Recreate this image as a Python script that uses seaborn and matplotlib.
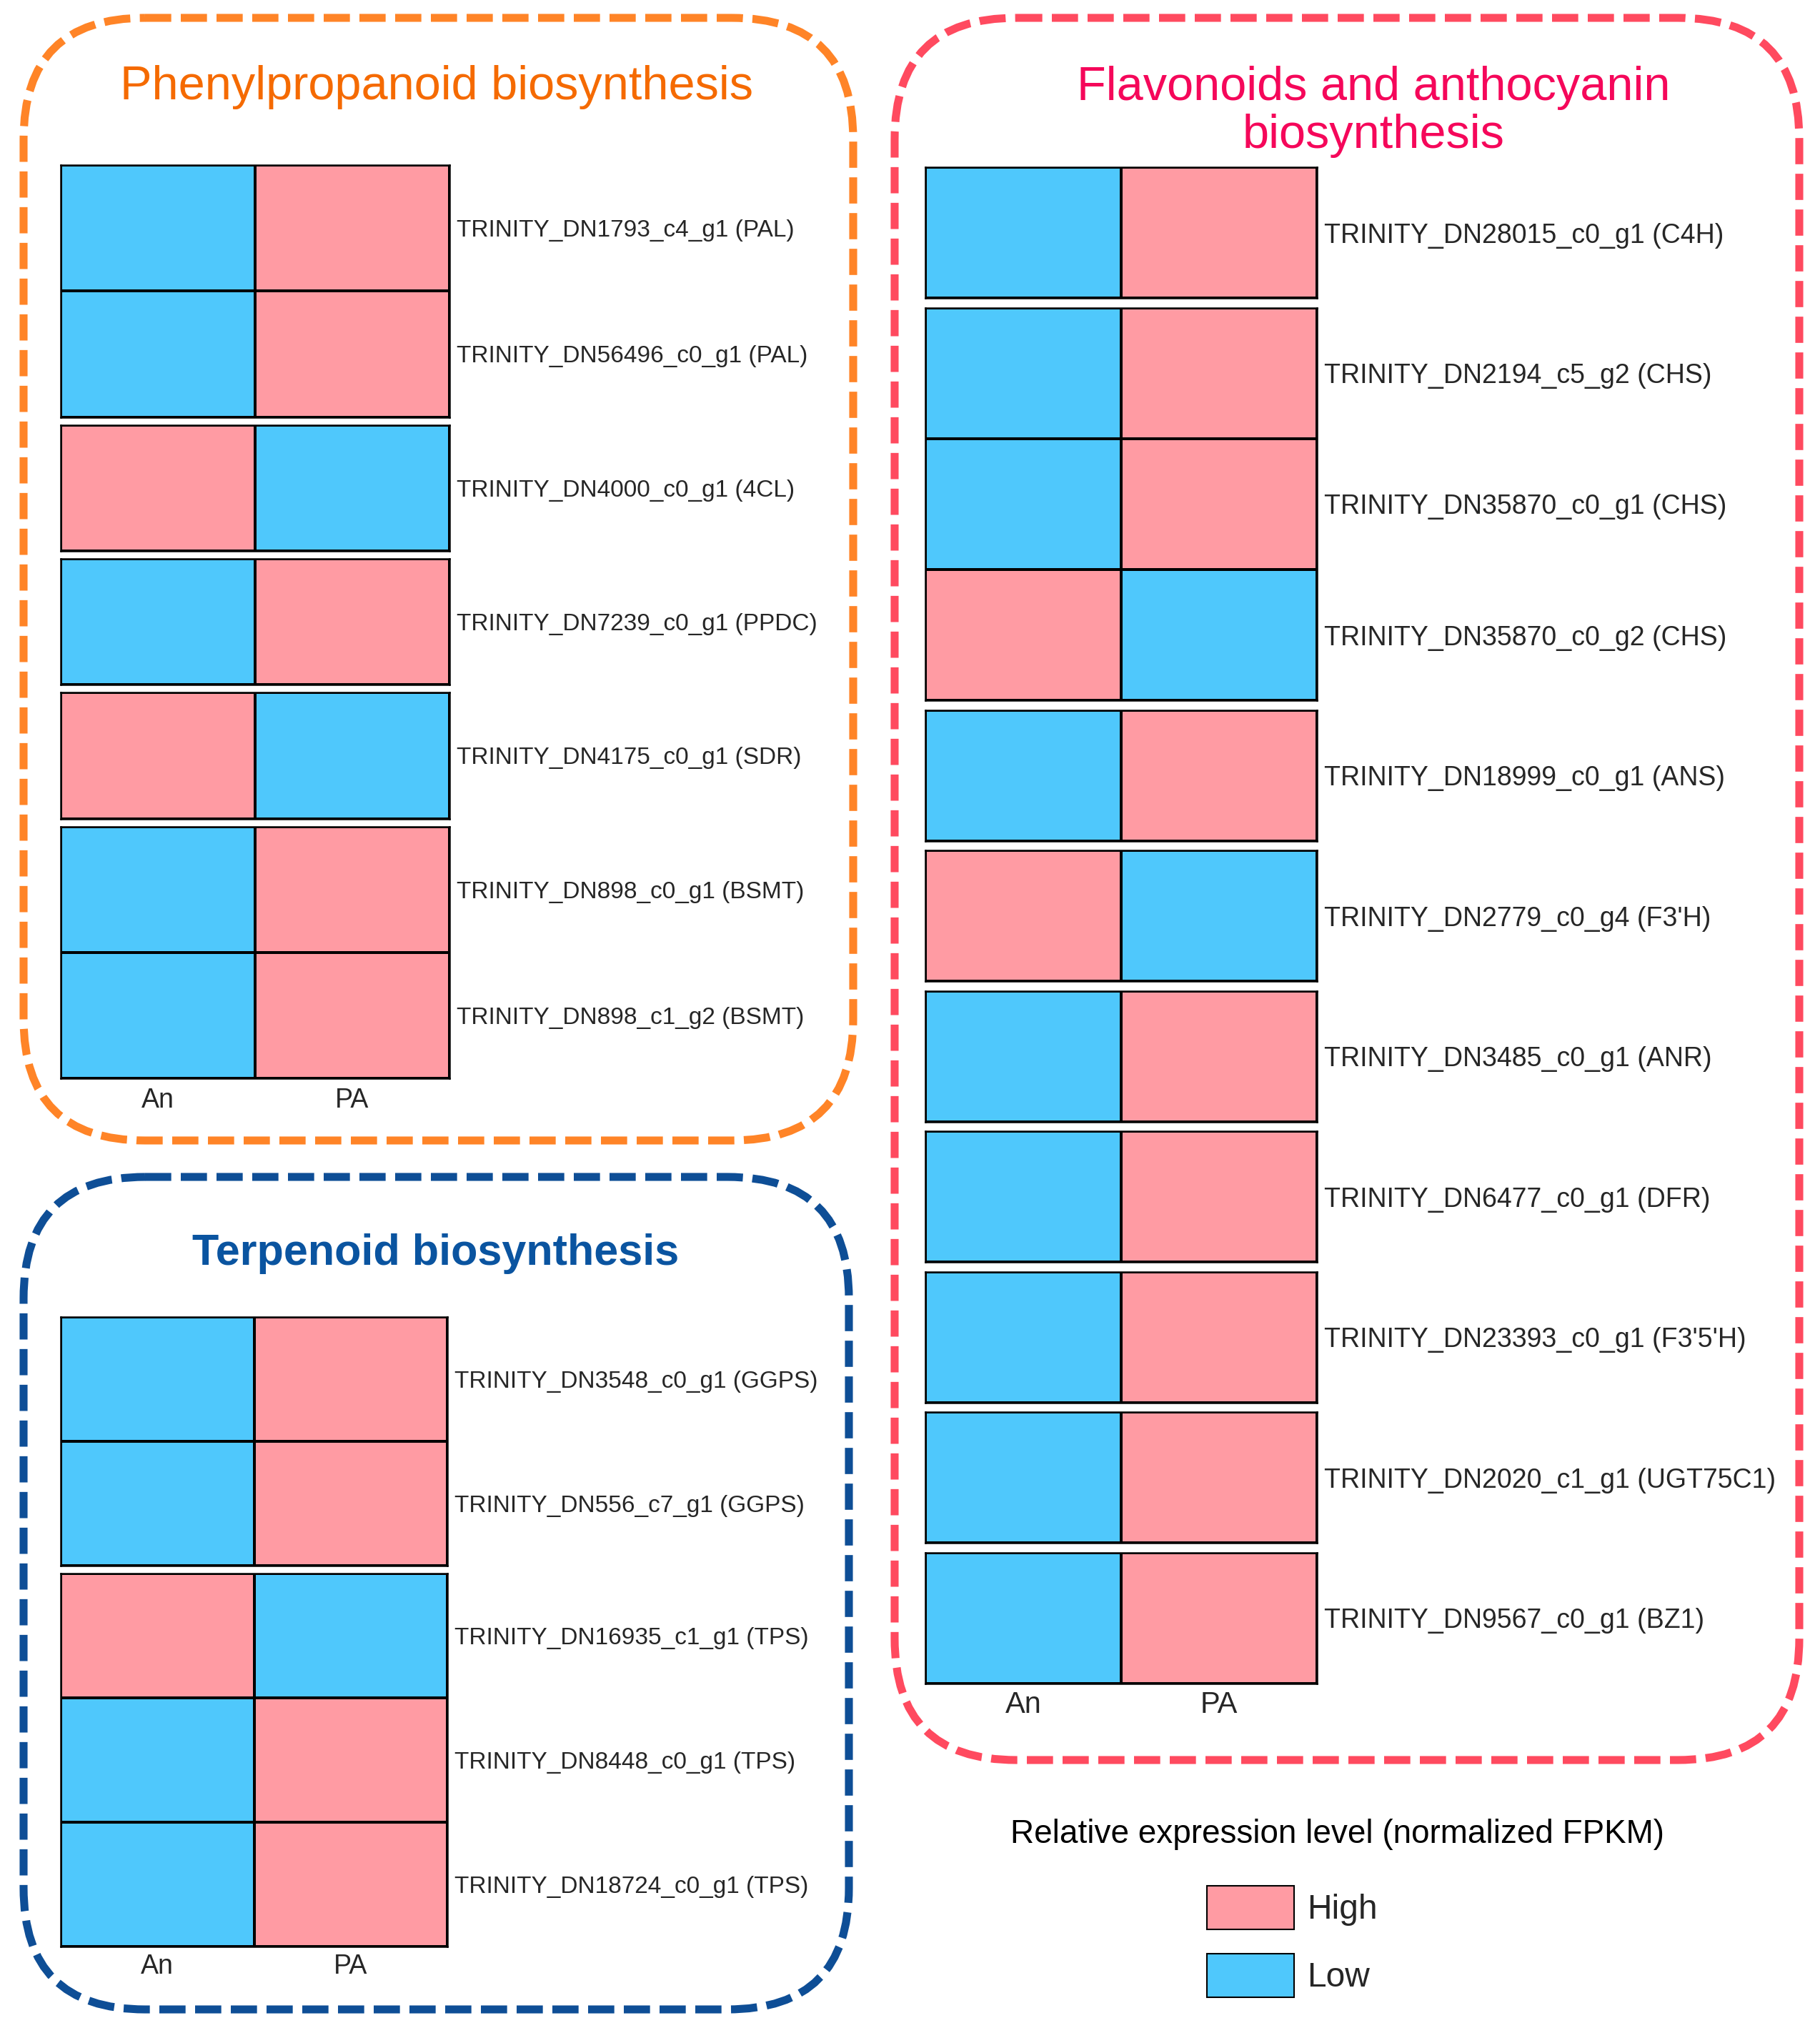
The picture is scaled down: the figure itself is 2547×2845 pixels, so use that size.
import numpy as np
import pandas as pd
import seaborn as sns
import matplotlib.pyplot as plt
from matplotlib.colors import ListedColormap
from matplotlib.patches import FancyBboxPatch, Patch

W, H = 2547, 2845
DPI = 100

LOW = "#4FC8FC"
HIGH = "#FF9BA3"

SAMPLES = ["An", "PA"]

# 1 = high, 0 = low (normalized FPKM)
PHENYL_GENES = ["TRINITY_DN1793_c4_g1 (PAL)", "TRINITY_DN56496_c0_g1 (PAL)",
                "TRINITY_DN4000_c0_g1 (4CL)", "TRINITY_DN7239_c0_g1 (PPDC)",
                "TRINITY_DN4175_c0_g1 (SDR)", "TRINITY_DN898_c0_g1 (BSMT)",
                "TRINITY_DN898_c1_g2 (BSMT)"]
PHENYL_AN = [0, 0, 1, 0, 1, 0, 0]
PHENYL_PA = [1, 1, 0, 1, 0, 1, 1]
PHENYL_GROUPS = [2, 1, 1, 1, 2]

TERP_GENES = ["TRINITY_DN3548_c0_g1 (GGPS)", "TRINITY_DN556_c7_g1 (GGPS)",
              "TRINITY_DN16935_c1_g1 (TPS)", "TRINITY_DN8448_c0_g1 (TPS)",
              "TRINITY_DN18724_c0_g1 (TPS)"]
TERP_AN = [0, 0, 1, 0, 0]
TERP_PA = [1, 1, 0, 1, 1]
TERP_GROUPS = [2, 3]

FLAV_GENES = ["TRINITY_DN28015_c0_g1 (C4H)", "TRINITY_DN2194_c5_g2 (CHS)",
              "TRINITY_DN35870_c0_g1 (CHS)", "TRINITY_DN35870_c0_g2 (CHS)",
              "TRINITY_DN18999_c0_g1 (ANS)", "TRINITY_DN2779_c0_g4 (F3'H)",
              "TRINITY_DN3485_c0_g1 (ANR)", "TRINITY_DN6477_c0_g1 (DFR)",
              "TRINITY_DN23393_c0_g1 (F3'5'H)", "TRINITY_DN2020_c1_g1 (UGT75C1)",
              "TRINITY_DN9567_c0_g1 (BZ1)"]
FLAV_AN = [0, 0, 0, 1, 0, 1, 0, 0, 0, 0, 0]
FLAV_PA = [1, 1, 1, 0, 1, 0, 1, 1, 1, 1, 1]
FLAV_GROUPS = [1, 3, 1, 1, 1, 1, 1, 1, 1]

sns.set_style("white")
plt.rcParams["font.family"] = ["Liberation Sans", "DejaVu Sans"]

fig = plt.figure(figsize=(W / DPI, H / DPI), dpi=DPI)

# background axes in pixel units for the dashed frames
bg = fig.add_axes([0, 0, 1, 1])
bg.set_xlim(0, W)
bg.set_ylim(H, 0)
bg.axis("off")


def px_rect(x0, y0, x1, y1):
    return [x0 / W, 1 - y1 / H, (x1 - x0) / W, (y1 - y0) / H]


def frame(x0, y0, x1, y1, color):
    box = FancyBboxPatch((x0, y0), x1 - x0, y1 - y0,
                         boxstyle="round,pad=0,rounding_size=170",
                         fill=False, ec=color, lw=8, linestyle=(0, (3.3, 1.2)))
    bg.add_patch(box)


cmap = ListedColormap([LOW, HIGH])


def panel(genes, an, pa, groups, x0, x1, top, row_h, gap, label_fs, tick_fs, xpad):
    df = pd.DataFrame({"An": an, "PA": pa}, index=genes)[SAMPLES]
    y = top
    start = 0
    for k, n in enumerate(groups):
        sub = df.iloc[start:start + n]
        ax = fig.add_axes(px_rect(x0, y, x1, y + n * row_h))
        sns.heatmap(sub, cmap=cmap, vmin=0, vmax=1, cbar=False,
                    linewidths=1.5, linecolor="black", ax=ax,
                    xticklabels=True, yticklabels=True)
        ax.yaxis.tick_right()
        ax.set_yticklabels(sub.index, rotation=0, ha="left", fontsize=label_fs)
        ax.tick_params(axis="y", length=0, pad=7)
        ax.set_xlabel("")
        ax.set_ylabel("")
        for sp in ax.spines.values():
            sp.set_visible(True)
            sp.set_linewidth(1.8)
            sp.set_color("black")
        if k == len(groups) - 1:
            ax.set_xticklabels(SAMPLES, rotation=0, fontsize=tick_fs)
            ax.tick_params(axis="x", length=0, pad=xpad)
        else:
            ax.set_xticks([])
        y += n * row_h + gap
        start += n


# Phenylpropanoid
frame(33, 25, 1194, 1596, "#FF8427")
fig.text(611 / W, 1 - 139 / H, "Phenylpropanoid biosynthesis", ha="center",
         va="baseline", fontsize=48, color="#F56A00")
panel(PHENYL_GENES, PHENYL_AN, PHENYL_PA, PHENYL_GROUPS,
      85, 629, 231, 176.3, 11, 24, 27, 9)

# Terpenoid
frame(33, 1647, 1188, 2812, "#0E4E96")
fig.text(610 / W, 1 - 1770 / H, "Terpenoid biosynthesis", ha="center",
         va="baseline", fontsize=44, fontweight="bold", color="#0A54A0")
panel(TERP_GENES, TERP_AN, TERP_PA, TERP_GROUPS,
      85, 626, 1843, 174, 11, 24, 27, 7)

# Flavonoids and anthocyanin
frame(1252, 25, 2518, 2463, "#FF4A5F")
fig.text(1922 / W, 1 - 140 / H, "Flavonoids and anthocyanin", ha="center",
         va="baseline", fontsize=48, color="#F5075A")
fig.text(1922 / W, 1 - 207 / H, "biosynthesis", ha="center",
         va="baseline", fontsize=48, color="#F5075A")
panel(FLAV_GENES, FLAV_AN, FLAV_PA, FLAV_GROUPS,
      1295, 1843, 234, 183.3, 13.2, 27, 30, 7)

# legend
fig.text(1872 / W, 1 - 2567 / H, "Relative expression level (normalized FPKM)",
         ha="center", va="center", fontsize=33, color="black")
handles = [Patch(fc=HIGH, ec="black", lw=1.5), Patch(fc=LOW, ec="black", lw=1.5)]
fig.legend(handles, ["High", "Low"], loc="upper left",
           bbox_to_anchor=(1689 / W, 1 - 2639 / H), frameon=False,
           fontsize=34.5, handlelength=2.54, handleheight=1.58,
           handletextpad=0.375, labelspacing=0.71, borderpad=0,
           borderaxespad=0)

plt.savefig("out.png", dpi=DPI)
